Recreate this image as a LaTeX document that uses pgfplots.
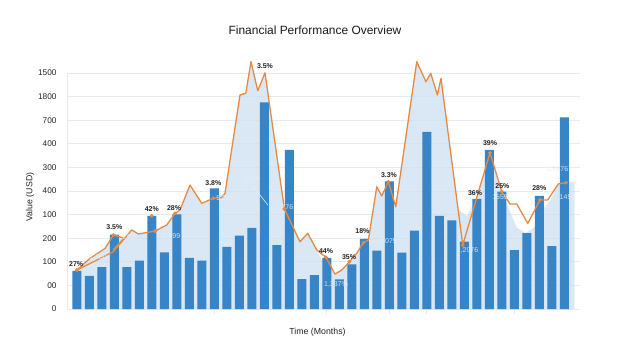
\documentclass[border=0pt]{standalone}
\usepackage{pgfplots}
\pgfplotsset{compat=1.18}
\usepackage{fontspec}
\setmainfont{Liberation Sans}
\definecolor{barblue}{RGB}{55,132,198}
\definecolor{lineor}{RGB}{232,137,66}
\definecolor{areablue}{RGB}{205,224,241}
\definecolor{gridc}{RGB}{230,234,239}
\definecolor{txt}{RGB}{35,35,35}
\definecolor{lightlab}{RGB}{228,238,248}
\begin{document}
\begin{tikzpicture}
\useasboundingbox (-67bp,-51bp) rectangle (572bp,309bp);
\begin{axis}[
  at={(0,0)}, anchor=south west,
  scale only axis, width=513bp, height=236bp,
  xmin=0.22, xmax=41.26, ymin=0, ymax=1000,
  clip=false,
  axis x line=bottom, axis y line=left,
  axis line style={draw=gridc, line width=0.8pt, -},
  ytick={0,100,...,1000},
  yticklabels={0,00,100,200,100,400,300,400,700,1800,1500},
  ymajorgrids, grid style={draw=gridc, line width=0.8pt},
  ytick style={draw=none},
  yticklabel style={font=\fontsize{8.3}{9}\selectfont\color{txt}, xshift=-2bp},
  xtick={12,21,26,29,36},
  xticklabels={},
  xtick style={draw=gridc, line width=0.8pt},
  major tick length=5bp,
  tick align=outside,
  /pgf/number format/assume math mode=true,
]
% area
\addplot[fill=areablue, fill opacity=0.75, draw=none] coordinates {
(1,0)(1,165)(2.07,215)(3.27,257)(3.93,314)(4.79,300)(5.4,335)(5.93,318)(7.26,330)(8.2,356)(8.86,405)(9.26,419)(10.06,525)(11.0,448)(11.93,469)(12.86,490)(14.06,907)(14.52,914)(14.94,1048)(15.48,925)(16.06,1001)(17.61,424)(18.86,285)(19.48,321)(20.2,250)(20.6,205)(20.94,219)(21.66,148)(22.2,165)(22.81,200)(23.4,236)(23.93,281)(24.33,292)(25.0,518)(25.4,479)(25.93,539)(26.52,433)(28.2,1048)(28.94,963)(29.32,999)(29.85,907)(30.14,977)(31.5,420)(32.2,395)(33.0,470)(34.06,662)(35.0,497)(35.6,420)(36.2,345)(36.9,322)(37.6,345)(38.3,420)(39.0,470)(39.53,530)(40.14,535)(40.8,540)(40.8,0)
} -- cycle;
% bars
\addplot[ybar, bar width=9bp, fill=barblue, draw=none] coordinates {
(1,162)(2,140)(3,177)(4,315)(5,177)(6,205)(7,395)(8,240)(9,401)(10,217)
(11,205)(12,511)(13,263)(14,311)(15,344)(16,876)(17,271)(18,674)(19,127)(20,144)
(21,217)(22,126)(23,189)(24,297)(25,247)(26,541)(27,239)(28,332)(29,751)(30,395)
(31,376)(32,285)(33,467)(34,674)(35,497)(36,249)(37,322)(38,479)(39,266)(40,812)
};
% orange line
\addplot[lineor, line width=1.3pt, line join=round] coordinates {
(1,165)(2.33,200)(3.93,243)(5.4,335)(5.93,318)(7.26,330)(8.2,356)(8.86,405)(9.26,419)(10.06,525)(11.0,448)(11.93,469)(12.6,472)(12.86,490)(14.06,907)(14.52,914)(14.94,1048)(15.48,925)(16.06,1001)(17.61,424)(18.86,285)(19.48,321)(20.2,250)(20.94,219)(21.66,148)(22.2,165)(22.81,200)(23.4,236)(23.93,281)(24.33,292)(25.0,518)(25.4,479)(25.93,539)(26.52,433)(28.2,1048)(28.94,963)(29.32,999)(29.85,907)(30.14,977)(31.88,271)(34.06,662)(35.0,497)(35.66,445)(36.2,445)(37.08,363)(38.06,462)(38.68,462)(39.53,530)(40.14,535)
};
\addplot[lineor, line width=1.3pt, line join=round] coordinates {
(1,165)(2.07,215)(3.27,257)(3.93,314)(4.79,300)(3.9,250)
};
% markers
\addplot[only marks, mark=*, mark size=1.7pt, color=lineor] coordinates {
(1,165)(3.93,314)(7,395)(7.26,330)(8.86,405)(11.93,469)(17.61,424)(20.94,219)(22.81,200)(23.93,281)(25.93,539)(31.88,271)(34.06,662)(35.0,497)(38.06,462)(40.14,535)
};
% percentage labels
\begin{scope}[every node/.style={font=\bfseries\fontsize{7}{8}\selectfont, text=txt, inner sep=0pt}]
\node at (axis cs:0.95,191) {27\%};
\node at (axis cs:4.01,348) {3.5\%};
\node at (axis cs:7.0,424) {42\%};
\node at (axis cs:8.78,427) {28\%};
\node at (axis cs:11.93,534) {3.8\%};
\node at (axis cs:16.06,1030) {3.5\%};
\node at (axis cs:20.94,247) {44\%};
\node at (axis cs:22.78,222) {35\%};
\node at (axis cs:23.85,328) {18\%};
\node at (axis cs:25.98,568) {3.3\%};
\node at (axis cs:32.86,493) {36\%};
\node at (axis cs:34.06,702) {39\%};
\node at (axis cs:35.05,522) {25\%};
\node at (axis cs:38.0,514) {28\%};
\end{scope}
% light labels
\begin{scope}[every node/.style={font=\fontsize{7}{8}\selectfont, text=lightlab, text opacity=0.9, inner sep=0pt}]
\node at (axis cs:15.02,555) {3.3\%};
\draw[lightlab, line width=0.6pt] (axis cs:15.1,520) -- (axis cs:16.3,440);
\node at (axis cs:17.70,432) {5476};
\node at (axis cs:21.74,102) {1,337\%};
\node at (axis cs:25.98,288) {3079};
\draw[lightlab, line width=0.6pt] (axis cs:24.4,284) -- (axis cs:25.2,288);
\node at (axis cs:32.26,246) {1,2076};
\node at (axis cs:35.02,475) {15599};
\node at (axis cs:39.46,593) {1,5876};
\node at (axis cs:40.26,475) {1456};
\node at (axis cs:8.58,309) {1,699};
\node at (axis cs:12.86,470) {5,235};
\node at (axis cs:5.26,305) {1,025};
\node at (axis cs:2.70,220) {1,180};
\end{scope}
\end{axis}
\node[font=\fontsize{12}{14}\selectfont, text=black!90] at (248bp,279bp) {Financial Performance Overview};
\node[font=\fontsize{8.8}{10}\selectfont, text=txt, rotate=90] at (-37bp,112bp) {Value (USD)};
\node[font=\fontsize{8.8}{10}\selectfont, text=txt] at (250.5bp,-23bp) {Time (Months)};
\end{tikzpicture}
\end{document}
